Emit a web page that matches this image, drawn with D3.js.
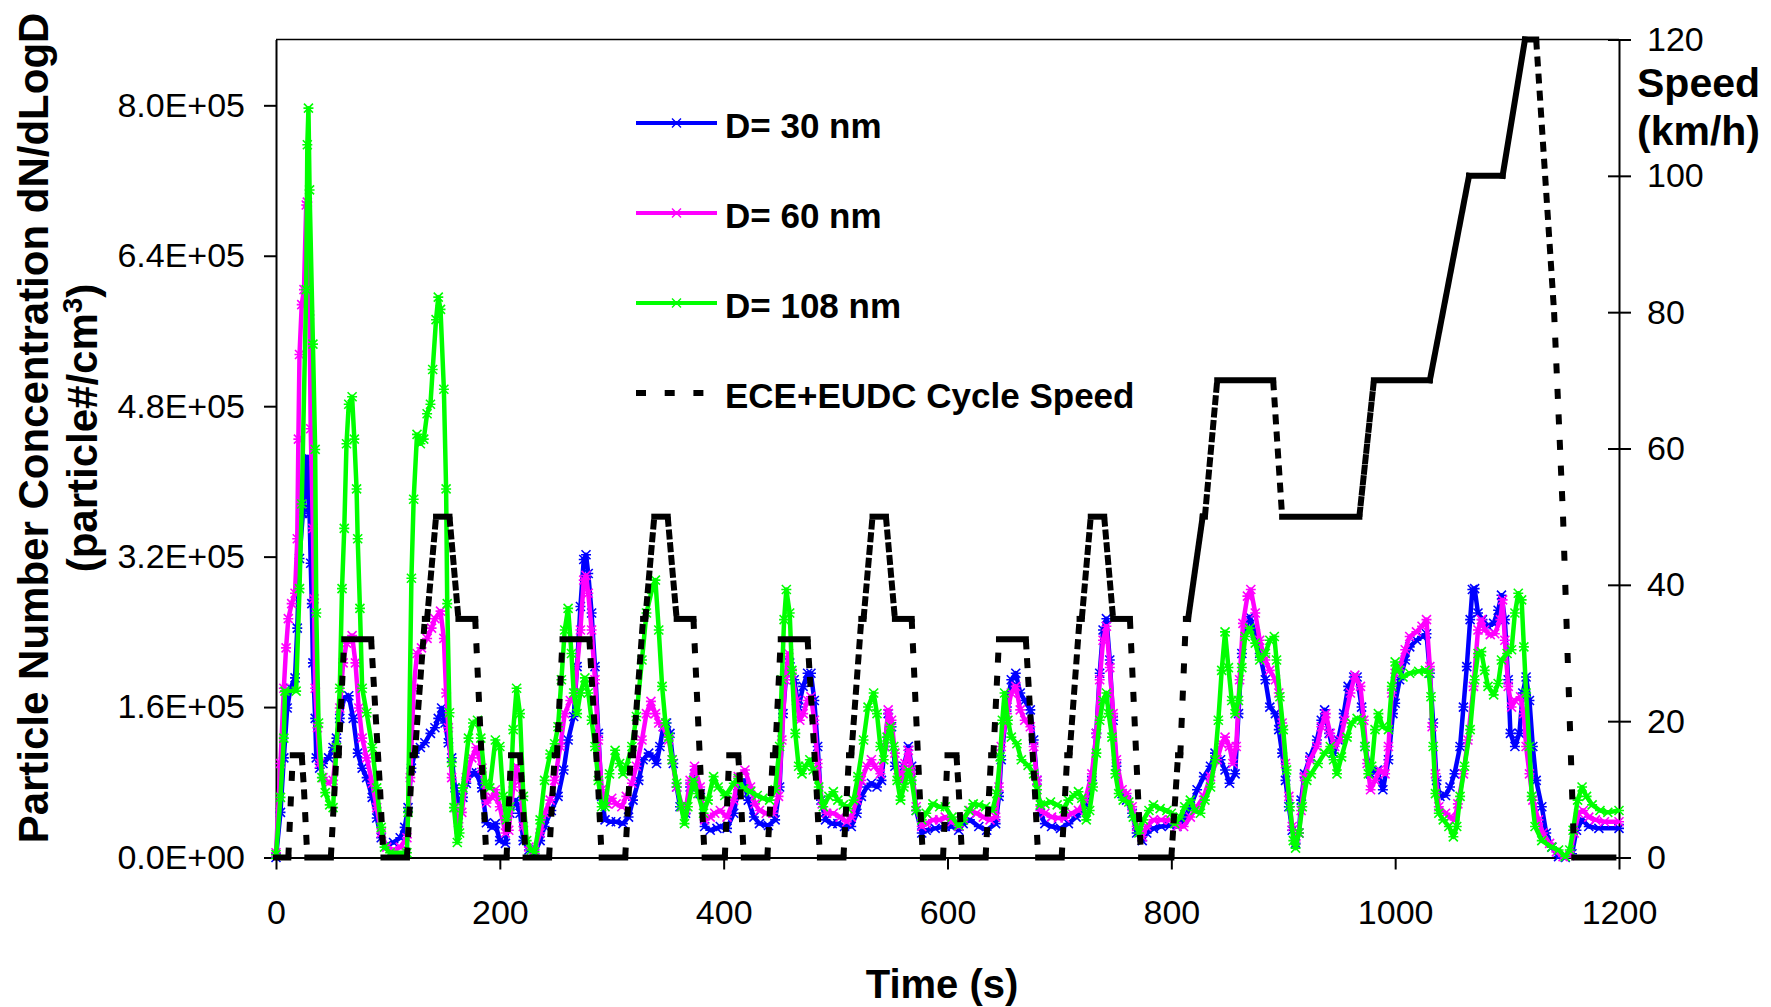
<!DOCTYPE html>
<html lang="en">
<head>
<meta charset="UTF-8">
<title>Particle Number Concentration - ECE+EUDC Cycle</title>
<script src="https://d3js.org/d3.v7.min.js"></script>
<style>
  body { margin: 0; background: #fff; }
  svg { display: block; font-family: "Liberation Sans", Arial, sans-serif; }
  .axis path, .axis line { stroke: #000; stroke-width: 2; }
  .axis text { font-family: "Liberation Sans", Arial, sans-serif; font-size: 34px; fill: #000; }
  .title { font-weight: bold; fill: #000; }
</style>
</head>
<body>
<div id="chart"></div>
<script>
// time (s), concentration in 1E+05 particle#/cm3
const d30 = [[0,0],[4,0.48],[7,1.06],[10,1.59],[13,1.8],[17,1.91],[19,2.44],[21,3.18],[24,3.66],[25,3.71],[27,4.24],[28,4.26],[30,3.66],[31,3.13],[32,2.7],[33,2.07],[35,1.48],[36,1.06],[39,0.95],[42,1.0],[47,1.06],[51,1.17],[54,1.27],[57,1.48],[61,1.7],[65,1.72],[69,1.48],[73,1.11],[77,0.95],[81,0.85],[86,0.64],[90,0.42],[94,0.21],[99,0.13],[105,0.16],[111,0.21],[115,0.32],[118,0.53],[121,0.95],[124,1.11],[129,1.17],[133,1.22],[138,1.32],[142,1.38],[145,1.48],[148,1.59],[151,1.43],[154,1.22],[157,1.06],[160,0.74],[163,0.58],[167,0.64],[170,0.79],[175,0.9],[179,0.9],[184,0.74],[188,0.37],[193,0.32],[196,0.36],[200,0.18],[205,0.15],[209,0.47],[214,0.61],[218,0.47],[221,0.18],[226,0.08],[231,0.04],[236,0.18],[240,0.33],[246,0.5],[252,0.65],[257,0.93],[261,1.25],[266,1.5],[269,2.03],[272,2.67],[275,3.17],[277,3.22],[279,3.02],[282,2.6],[285,2.03],[288,1.32],[291,0.65],[294,0.4],[299,0.38],[304,0.38],[310,0.36],[315,0.43],[319,0.61],[324,0.82],[328,1.04],[333,1.11],[337,1.07],[340,1.0],[343,1.18],[346,1.39],[349,1.43],[352,1.32],[355,1.0],[358,0.75],[361,0.54],[366,0.47],[370,0.75],[374,0.89],[379,0.68],[383,0.33],[388,0.29],[394,0.31],[397,0.33],[403,0.31],[409,0.47],[413,0.72],[418,0.82],[422,0.61],[427,0.43],[432,0.36],[440,0.34],[446,0.4],[450,0.75],[453,1.53],[456,1.96],[459,2.07],[463,1.89],[467,1.6],[471,1.82],[475,1.96],[478,1.96],[481,1.67],[484,1.18],[487,0.61],[491,0.4],[497,0.36],[502,0.36],[508,0.33],[514,0.33],[519,0.47],[523,0.65],[528,0.75],[532,0.79],[537,0.75],[541,0.82],[544,1.18],[547,1.53],[550,1.39],[553,0.97],[558,0.82],[561,0.97],[565,1.18],[568,0.97],[572,0.5],[577,0.26],[581,0.29],[589,0.31],[598,0.33],[604,0.33],[610,0.29],[614,0.36],[620,0.4],[628,0.33],[635,0.29],[643,0.36],[646,0.65],[648,1.04],[653,1.6],[657,1.89],[661,1.96],[665,1.75],[669,1.67],[674,1.57],[677,1.25],[680,0.82],[683,0.47],[687,0.36],[693,0.33],[701,0.31],[708,0.36],[715,0.43],[723,0.54],[729,0.82],[733,1.32],[736,1.96],[739,2.42],[742,2.54],[745,2.1],[748,1.46],[751,0.97],[756,0.68],[760,0.61],[765,0.47],[769,0.26],[774,0.18],[778,0.26],[784,0.31],[791,0.33],[799,0.34],[805,0.33],[811,0.4],[817,0.54],[823,0.72],[829,0.86],[835,0.97],[839,1.11],[844,1.04],[848,0.93],[852,0.79],[857,0.89],[860,1.53],[863,2.17],[867,2.46],[870,2.56],[875,2.38],[879,2.17],[884,1.89],[888,1.6],[893,1.53],[896,1.36],[899,1.11],[902,0.82],[905,0.54],[908,0.29],[911,0.15],[914,0.26],[916,0.61],[919,0.89],[924,1.07],[930,1.25],[934,1.46],[937,1.57],[941,1.32],[945,1.11],[949,1.25],[954,1.53],[958,1.82],[963,1.92],[966,1.92],[970,1.6],[973,1.18],[978,0.89],[984,0.93],[989,0.72],[994,1.04],[998,1.53],[1000,1.64],[1004,1.89],[1009,2.1],[1013,2.24],[1019,2.31],[1024,2.35],[1028,2.38],[1031,1.96],[1034,1.43],[1037,0.82],[1040,0.65],[1045,0.66],[1049,0.75],[1053,0.89],[1058,1.18],[1061,1.6],[1064,2.03],[1067,2.53],[1069,2.85],[1071,2.86],[1074,2.6],[1078,2.53],[1083,2.46],[1088,2.49],[1092,2.63],[1095,2.79],[1098,2.53],[1101,1.89],[1103,1.32],[1107,1.18],[1111,1.32],[1114,1.75],[1117,1.92],[1120,1.67],[1123,1.18],[1126,0.82],[1131,0.54],[1135,0.26],[1140,0.11],[1146,0.01],[1152,0],[1158,0.04],[1162,0.29],[1167,0.4],[1173,0.33],[1182,0.31],[1200,0.31]];

const d60 = [[0,0.05],[4,1.0],[7,1.8],[9,2.23],[11,2.54],[14,2.7],[17,2.81],[19,3.39],[20,4.45],[21,5.35],[23,5.88],[25,6.04],[27,6.94],[28,6.97],[30,5.77],[31,4.56],[33,3.5],[34,2.75],[35,1.8],[37,1.38],[39,1.0],[42,0.85],[47,0.79],[51,0.82],[54,1.17],[57,1.59],[60,2.07],[63,2.28],[68,2.36],[71,2.07],[74,1.59],[77,1.27],[81,1.06],[86,0.79],[90,0.53],[94,0.26],[99,0.11],[105,0.08],[111,0.11],[117,0.21],[120,0.85],[123,1.8],[126,2.17],[130,2.23],[135,2.33],[139,2.44],[142,2.54],[147,2.62],[150,2.33],[152,1.75],[154,1.38],[157,0.85],[160,0.53],[163,0.37],[166,0.48],[170,0.85],[175,1.06],[179,1.17],[184,0.95],[188,0.58],[193,0.64],[196,0.72],[200,0.54],[205,0.26],[208,0.29],[212,0.75],[215,0.97],[218,0.82],[221,0.33],[226,0.11],[231,0.08],[236,0.26],[240,0.47],[245,0.61],[249,0.82],[254,1.18],[258,1.53],[263,1.67],[267,1.75],[272,2.42],[275,2.95],[277,3.0],[279,2.81],[282,2.42],[285,1.89],[288,1.25],[291,0.72],[296,0.57],[300,0.63],[304,0.57],[309,0.54],[313,0.65],[318,0.79],[322,0.97],[327,1.25],[331,1.53],[335,1.66],[339,1.53],[342,1.43],[346,1.39],[351,1.25],[354,1.04],[358,0.75],[363,0.54],[366,0.5],[370,0.82],[374,0.97],[379,0.75],[383,0.4],[388,0.43],[392,0.47],[397,0.5],[403,0.43],[409,0.61],[413,0.86],[419,0.93],[424,0.75],[428,0.57],[432,0.5],[438,0.47],[444,0.47],[449,0.65],[452,1.25],[455,1.89],[458,2.17],[461,1.96],[465,1.67],[468,1.46],[471,1.53],[475,1.67],[478,1.71],[481,1.46],[484,1.0],[488,0.57],[492,0.47],[498,0.47],[504,0.43],[510,0.38],[514,0.43],[519,0.61],[523,0.82],[528,0.97],[532,1.04],[535,0.97],[540,0.89],[544,1.18],[547,1.57],[550,1.46],[553,1.11],[556,0.89],[559,0.82],[562,1.0],[565,1.14],[568,0.93],[572,0.54],[577,0.33],[581,0.36],[587,0.4],[593,0.4],[598,0.43],[604,0.38],[610,0.33],[614,0.42],[620,0.5],[626,0.47],[632,0.43],[638,0.4],[643,0.43],[646,0.75],[648,1.18],[653,1.53],[657,1.75],[661,1.82],[665,1.57],[669,1.46],[674,1.39],[677,1.18],[680,0.82],[683,0.5],[687,0.47],[693,0.43],[699,0.42],[705,0.42],[711,0.47],[717,0.5],[723,0.61],[729,0.89],[733,1.32],[736,1.89],[739,2.31],[742,2.46],[745,2.02],[748,1.53],[751,1.04],[756,0.72],[760,0.68],[765,0.54],[769,0.33],[774,0.22],[778,0.33],[784,0.4],[791,0.4],[799,0.4],[805,0.33],[811,0.33],[817,0.43],[823,0.54],[829,0.65],[835,0.86],[841,1.04],[845,1.21],[848,1.28],[852,1.18],[855,1.0],[858,1.18],[861,1.89],[864,2.49],[868,2.78],[871,2.85],[875,2.6],[879,2.31],[884,2.1],[888,1.99],[893,1.89],[896,1.75],[899,1.43],[902,1.0],[905,0.65],[908,0.33],[911,0.18],[914,0.26],[916,0.5],[919,0.86],[924,1.04],[930,1.18],[934,1.39],[938,1.53],[942,1.32],[946,1.18],[951,1.25],[955,1.46],[960,1.75],[964,1.94],[969,1.82],[972,1.46],[975,1.0],[978,0.72],[982,0.82],[986,0.93],[991,0.89],[994,1.18],[997,1.75],[1000,1.96],[1004,2.03],[1009,2.21],[1013,2.35],[1019,2.4],[1024,2.46],[1028,2.53],[1031,2.03],[1033,1.39],[1036,0.89],[1039,0.54],[1045,0.47],[1049,0.43],[1053,0.4],[1056,0.57],[1061,0.89],[1065,1.25],[1070,1.82],[1074,2.42],[1077,2.53],[1080,2.42],[1085,2.37],[1089,2.38],[1094,2.53],[1096,2.74],[1098,2.31],[1101,1.82],[1104,1.6],[1107,1.67],[1112,1.71],[1115,1.53],[1117,1.18],[1120,0.89],[1123,0.61],[1128,0.4],[1132,0.26],[1138,0.15],[1144,0.06],[1150,0.01],[1156,0.02],[1160,0.26],[1164,0.47],[1168,0.5],[1173,0.43],[1179,0.4],[1187,0.38],[1200,0.38]];

const d108 = [[0,0.03],[4,0.64],[7,1.27],[8,1.77],[18,1.77],[21,2.86],[23,3.76],[27,6.04],[28,7.58],[29,7.97],[30,7.1],[33,5.46],[35,4.34],[36,2.6],[38,1.43],[41,0.85],[44,0.69],[48,0.56],[51,0.53],[54,1.17],[57,1.8],[59,2.86],[61,3.5],[63,4.4],[65,4.82],[68,4.9],[70,4.45],[72,3.92],[73,3.39],[75,2.65],[77,1.8],[81,1.54],[86,1.17],[90,0.74],[94,0.32],[97,0.11],[102,0.05],[117,0.05],[118,0.48],[121,2.97],[123,3.81],[126,4.5],[129,4.4],[132,4.45],[135,4.72],[138,4.82],[140,5.19],[143,5.72],[145,5.96],[147,5.83],[150,4.98],[152,3.92],[153,2.7],[155,1.54],[157,1.01],[159,0.53],[162,0.16],[164,0.26],[167,0.74],[172,1.27],[176,1.43],[180,1.46],[183,1.27],[187,0.79],[191,0.74],[196,1.25],[200,1.18],[203,0.65],[206,0.4],[209,0.54],[212,1.36],[215,1.8],[218,1.53],[221,0.65],[224,0.18],[228,0.08],[231,0.06],[236,0.4],[240,0.82],[245,1.1],[249,1.21],[252,1.39],[255,1.89],[258,2.42],[261,2.65],[264,2.17],[266,1.75],[269,1.53],[272,1.75],[276,1.91],[279,1.75],[282,1.46],[285,1.18],[288,0.82],[291,0.54],[294,0.54],[298,0.89],[303,1.14],[307,1.0],[310,0.89],[313,0.97],[318,1.18],[322,1.5],[327,2.1],[331,2.6],[336,2.85],[339,2.95],[342,2.42],[345,1.82],[348,1.43],[351,1.28],[354,1.04],[358,0.79],[362,0.54],[365,0.36],[368,0.54],[373,0.82],[377,0.68],[382,0.47],[386,0.61],[391,0.86],[395,0.75],[401,0.66],[403,0.68],[409,0.79],[413,0.84],[418,0.73],[424,0.7],[430,0.66],[435,0.63],[441,0.61],[446,0.72],[450,1.18],[452,1.89],[454,2.53],[456,2.85],[459,2.6],[461,1.99],[464,1.32],[467,0.97],[470,0.89],[473,0.97],[477,1.04],[480,0.93],[485,0.75],[489,0.54],[494,0.65],[498,0.7],[502,0.61],[507,0.56],[511,0.52],[516,0.61],[520,0.86],[525,1.25],[529,1.6],[534,1.75],[537,1.53],[540,1.18],[543,1.04],[546,1.28],[549,1.39],[552,1.18],[555,0.82],[558,0.61],[561,0.75],[565,0.93],[568,0.82],[572,0.5],[577,0.4],[581,0.47],[587,0.57],[593,0.54],[598,0.54],[604,0.43],[610,0.34],[614,0.4],[619,0.5],[623,0.57],[628,0.56],[634,0.54],[640,0.5],[644,0.68],[647,1.07],[649,1.46],[651,1.75],[654,1.46],[657,1.28],[662,1.21],[666,1.04],[672,0.98],[677,0.89],[680,0.72],[683,0.56],[687,0.57],[692,0.59],[698,0.56],[704,0.52],[708,0.61],[713,0.66],[717,0.7],[720,0.63],[724,0.4],[727,0.5],[730,0.75],[733,1.11],[736,1.46],[739,1.67],[742,1.75],[744,1.53],[747,1.28],[750,0.89],[753,0.68],[757,0.61],[762,0.59],[766,0.43],[771,0.26],[775,0.4],[780,0.5],[784,0.56],[790,0.52],[796,0.5],[800,0.47],[803,0.36],[808,0.43],[812,0.54],[817,0.61],[821,0.5],[826,0.47],[830,0.61],[835,0.75],[839,1.04],[842,1.46],[845,1.99],[848,2.4],[851,2.02],[854,1.67],[857,1.53],[860,1.67],[863,2.02],[866,2.35],[870,2.44],[875,2.28],[879,2.1],[884,2.17],[888,2.31],[892,2.35],[894,2.1],[897,1.71],[900,1.36],[903,0.93],[906,0.54],[909,0.18],[911,0.1],[914,0.26],[917,0.54],[921,0.82],[925,0.89],[931,1.0],[937,1.11],[942,1.18],[945,1.04],[948,0.89],[952,1.07],[957,1.28],[961,1.43],[966,1.48],[970,1.46],[973,1.18],[976,0.89],[979,0.97],[982,1.36],[985,1.53],[989,1.39],[994,1.36],[997,1.82],[1000,2.08],[1003,1.99],[1007,1.92],[1013,1.96],[1021,1.98],[1027,1.99],[1030,1.96],[1032,1.71],[1034,1.18],[1036,0.68],[1039,0.47],[1043,0.4],[1048,0.33],[1052,0.22],[1055,0.33],[1058,0.65],[1062,0.97],[1067,1.36],[1071,1.89],[1074,2.17],[1077,2.19],[1080,1.99],[1083,1.82],[1088,1.73],[1092,1.85],[1095,2.1],[1100,2.17],[1104,2.21],[1107,2.6],[1110,2.81],[1113,2.74],[1115,2.24],[1117,1.75],[1120,1.18],[1122,0.65],[1125,0.33],[1131,0.18],[1140,0.11],[1146,0.08],[1152,0.01],[1156,0.08],[1159,0.29],[1163,0.61],[1167,0.75],[1171,0.65],[1176,0.56],[1183,0.5],[1190,0.48],[1200,0.5]];

// ECE (x4) + EUDC driving cycle: time (s), speed (km/h)
const cycleSpeed = [[0,0],[11,0],[15,15],[23,15],[25,10],[28,0],[49,0],[54,15],[56,15],[61,32],[85,32],[93,10],[96,0],[117,0],[122,15],[124,15],[133,35],[135,35],[143,50],[155,50],[163,35],[178,35],[185,10],[188,0],
  [206,0],[210,15],[218,15],[220,10],[223,0],[244,0],[249,15],[251,15],[256,32],[280,32],[288,10],[291,0],[312,0],[317,15],[319,15],[328,35],[330,35],[338,50],[350,50],[358,35],[373,35],[380,10],[383,0],
  [401,0],[405,15],[413,15],[415,10],[418,0],[439,0],[444,15],[446,15],[451,32],[475,32],[483,10],[486,0],[507,0],[512,15],[514,15],[523,35],[525,35],[533,50],[545,50],[553,35],[568,35],[575,10],[578,0],
  [596,0],[600,15],[608,15],[610,10],[613,0],[634,0],[639,15],[641,15],[646,32],[670,32],[678,10],[681,0],[702,0],[707,15],[709,15],[718,35],[720,35],[728,50],[740,50],[748,35],[763,35],[770,10],[773,0],
  [800,0],[806,15],[808,15],[813,35],[815,35],[828,50],[830,50],[841,70],[891,70],[899,50],[968,50],[981,70],[1031,70],[1066,100],[1096,100],[1116,120],[1126,120],[1142,80],[1150,50],[1160,0],[1195,0]];

const seriesNames = ["D= 30 nm", "D= 60 nm", "D= 108 nm"];
const speedName = "ECE+EUDC Cycle Speed";
const concTicks = [0, 160000, 320000, 480000, 640000, 800000];
const speedTicks = [0, 20, 40, 60, 80, 100, 120];
const timeTicks = [0, 200, 400, 600, 800, 1000, 1200];

const colors = ["#0000ff", "#ff00ff", "#00ff00"];
const W = 1771, H = 1007;
const margin = { top: 39.5, right: 152, bottom: 149.5, left: 276 };
const width = W - margin.left - margin.right;
const height = H - margin.top - margin.bottom;

const svg = d3.select("#chart").append("svg")
  .attr("width", W).attr("height", H);
svg.append("rect").attr("width", W).attr("height", H).attr("fill", "#fff");

const g = svg.append("g")
  .attr("transform", "translate(" + margin.left + "," + margin.top + ")");

const x = d3.scaleLinear().domain([0, 1200]).range([0, width]);
const y = d3.scaleLinear().domain([0, 870000]).range([height, 0]);
const y2 = d3.scaleLinear().domain([0, 120]).range([height, 0]);

// 8.0E+05 style labels
const sciFmt = v => {
  if (v === 0) return "0.0E+00";
  const e = Math.floor(Math.log10(v));
  return (v / Math.pow(10, e)).toFixed(1) + "E+" + String(e).padStart(2, "0");
};

// top frame line
g.append("line")
  .attr("x1", 0).attr("x2", width).attr("y1", 0).attr("y2", 0)
  .attr("stroke", "#000").attr("stroke-width", 1.5);

// axes
g.append("g").attr("class", "axis")
  .call(d3.axisLeft(y).tickValues(concTicks).tickFormat(sciFmt)
    .tickSize(12).tickPadding(19).tickSizeOuter(0));

g.append("g").attr("class", "axis")
  .attr("transform", "translate(0," + height + ")")
  .call(d3.axisBottom(x).tickValues(timeTicks).tickFormat(d3.format("d"))
    .tickSize(12).tickPadding(30).tickSizeOuter(0));

g.append("g").attr("class", "axis")
  .attr("transform", "translate(" + width + ",0)")
  .call(d3.axisRight(y2).tickValues(speedTicks)
    .tickSize(12).tickPadding(16).tickSizeOuter(0))
  .call(a => a.selectAll(".tick line").attr("x1", -11));

// particle series
const line = d3.line()
  .x(d => x(d[0]))
  .y(d => y(d[1] * 1e5));

const star = "M-4.5,-4.5L4.5,4.5M-4.5,4.5L4.5,-4.5M-5,0L5,0";

[d30, d60, d108].forEach((data, i) => {
  g.append("path")
    .datum(data)
    .attr("fill", "none")
    .attr("stroke", colors[i])
    .attr("stroke-width", 4.5)
    .attr("stroke-linejoin", "round")
    .attr("d", line);
  g.append("g").selectAll("path")
    .data(data)
    .enter().append("path")
    .attr("d", star)
    .attr("transform", d => "translate(" + x(d[0]) + "," + y(d[1] * 1e5) + ")")
    .attr("fill", "none")
    .attr("stroke", colors[i])
    .attr("stroke-width", 1.6);
});

// speed line: dash pattern restarts at every second, so slow ramps look solid
const dashOn = 10;
const speedG = g.append("g");
d3.pairs(cycleSpeed).forEach(([a, b]) => {
  const x0 = x(a[0]), y0 = y2(a[1]), x1 = x(b[0]), y1 = y2(b[1]);
  const perSec = Math.hypot(x1 - x0, y1 - y0) / (b[0] - a[0]);
  const dashed = perSec > dashOn;
  speedG.append("line")
    .attr("x1", x0).attr("y1", y0).attr("x2", x1).attr("y2", y1)
    .attr("stroke", "#000")
    .attr("stroke-width", 6)
    .attr("stroke-linecap", dashed ? "butt" : "square")
    .attr("stroke-dasharray", dashed ? dashOn + " " + (perSec - dashOn) : null);
});

// legend
const legend = svg.append("g").attr("transform", "translate(636,123)");
seriesNames.concat([speedName]).forEach((name, i) => {
  const row = legend.append("g").attr("transform", "translate(0," + i * 90 + ")");
  if (i < 3) {
    row.append("line").attr("x1", 0).attr("x2", 81)
      .attr("stroke", colors[i]).attr("stroke-width", 4);
    row.append("path").attr("d", star).attr("transform", "translate(40.5,0)")
      .attr("fill", "none").attr("stroke", colors[i]).attr("stroke-width", 1.4);
  } else {
    row.append("line").attr("x1", 0).attr("x2", 81)
      .attr("stroke", "#000").attr("stroke-width", 6)
      .attr("stroke-dasharray", "10 18.7");
  }
  row.append("text").attr("class", "title")
    .attr("x", 89).attr("y", 15)
    .attr("font-size", 35)
    .text(name);
});

// axis titles
svg.append("text").attr("class", "title")
  .attr("transform", "translate(48,428) rotate(-90)")
  .attr("text-anchor", "middle")
  .attr("font-size", 42)
  .text("Particle Number Concentration dN/dLogD");

const t2 = svg.append("text").attr("class", "title")
  .attr("transform", "translate(97,428) rotate(-90)")
  .attr("text-anchor", "middle")
  .attr("font-size", 42);
t2.append("tspan").text("(particle#/cm");
t2.append("tspan").attr("dy", -15).attr("font-size", 28).text("3");
t2.append("tspan").attr("dy", 15).text(")");

svg.append("text").attr("class", "title")
  .attr("x", 942).attr("y", 998)
  .attr("text-anchor", "middle")
  .attr("font-size", 40)
  .text("Time (s)");

svg.append("text").attr("class", "title")
  .attr("x", 1637).attr("y", 97)
  .attr("font-size", 41)
  .text("Speed");
svg.append("text").attr("class", "title")
  .attr("x", 1637).attr("y", 145)
  .attr("font-size", 41)
  .text("(km/h)");
</script>
</body>
</html>
